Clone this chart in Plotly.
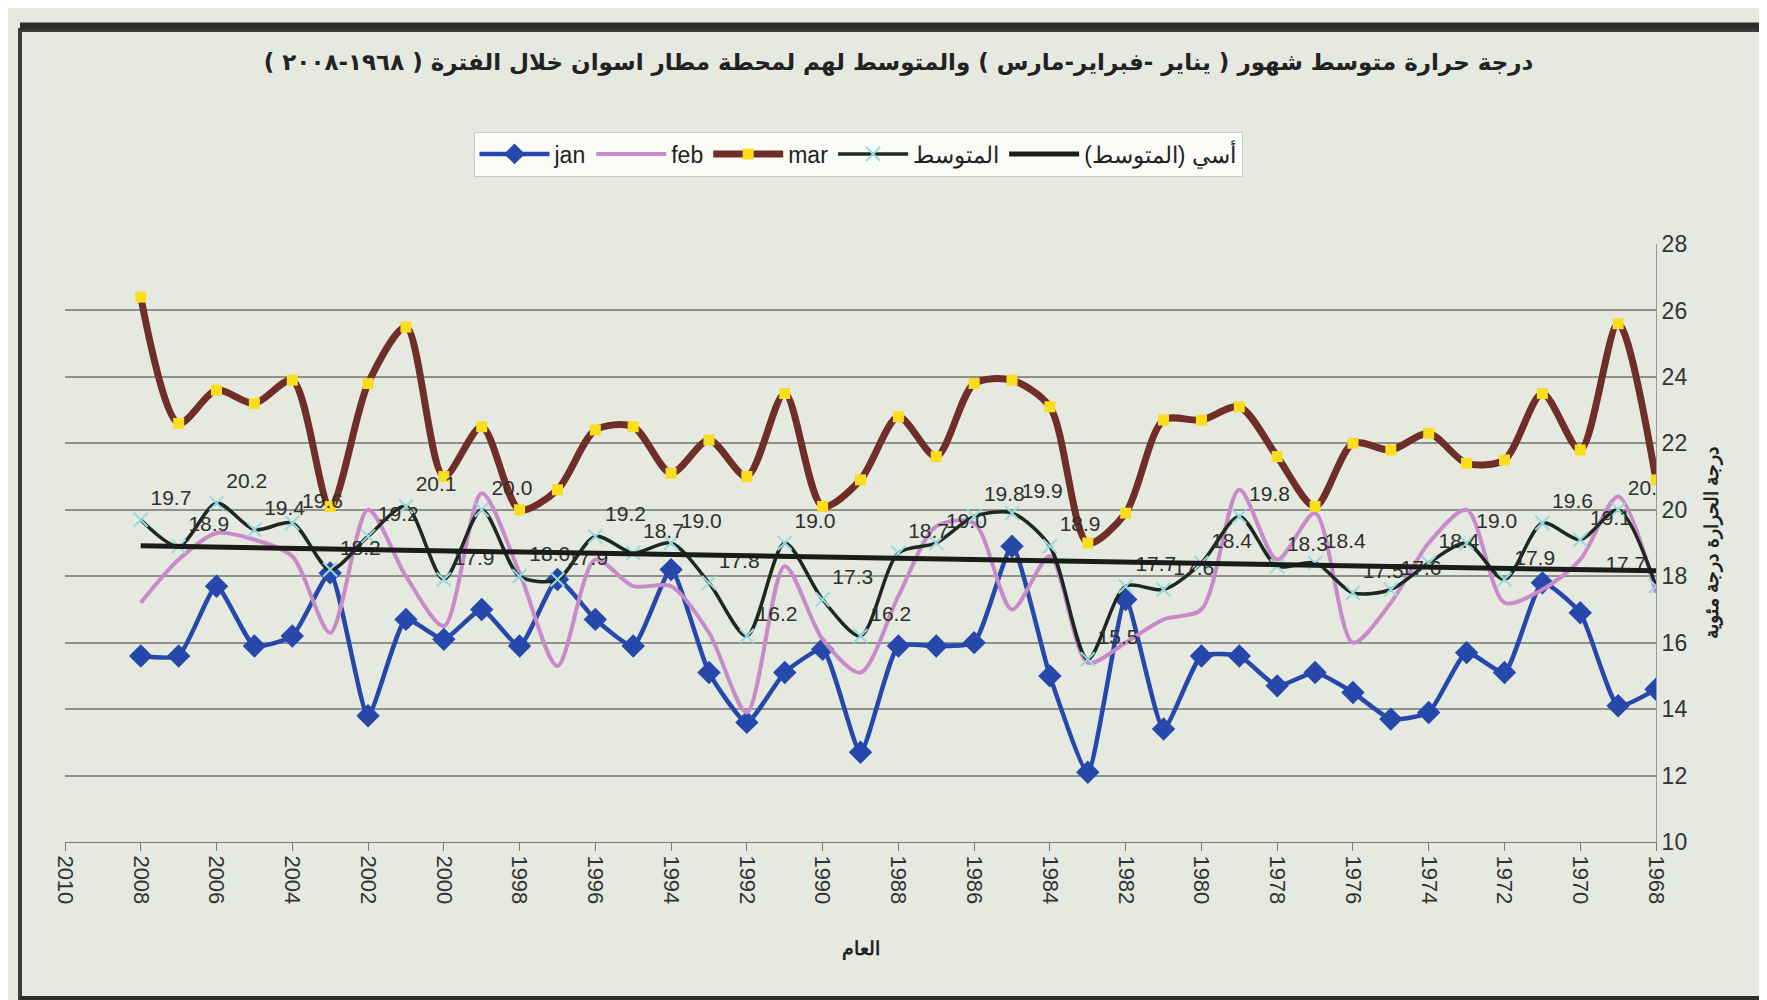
import numpy as np
import plotly.graph_objects as go

years = list(range(2008, 1967, -1))

jan = [15.6, 15.6, 17.7, 15.9, 16.2, 18.1, 13.8, 16.7, 16.1, 17.0,
       15.9, 17.9, 16.7, 15.9, 18.2, 15.1, 13.6, 15.1, 15.8, 12.7,
       15.9, 15.9, 16.0, 18.9, 15.0, 12.1, 17.3, 13.4, 15.6, 15.6,
       14.7, 15.1, 14.5, 13.7, 13.9, 15.7, 15.1, 17.8, 16.9, 14.1,
       14.6]

feb = [17.2, 18.5, 19.3, 19.1, 18.6, 16.3, 20.0, 18.0, 16.5, 20.5,
       18.1, 15.3, 18.5, 17.7, 17.7, 16.3, 13.9, 18.3, 16.1, 15.1,
       17.4, 19.5, 19.6, 17.0, 18.6, 15.4, 16.0, 16.7, 17.0, 20.6,
       18.5, 19.9, 16.0, 17.2, 19.0, 20.0, 17.2, 17.6, 18.5, 20.4,
       17.5]

mar = [26.4, 22.6, 23.6, 23.2, 23.9, 20.1, 23.8, 25.5, 21.0, 22.5,
       20.0, 20.6, 22.4, 22.5, 21.1, 22.1, 21.0, 23.5, 20.1, 20.9,
       22.8, 21.6, 23.8, 23.9, 23.1, 19.0, 19.9, 22.7, 22.7, 23.1,
       21.6, 20.1, 22.0, 21.8, 22.3, 21.4, 21.5, 23.5, 21.8, 25.6,
       20.9]

avg = [round((a + b + c) / 3, 1) for a, b, c in zip(jan, feb, mar)]

# exponential trendline of the average (Excel "أسي")
yr = np.array(years, dtype=float)
b, a = np.polyfit(yr, np.log(avg), 1)
trend = np.exp(a + b * yr)

title = "درجة حرارة متوسط شهور ( يناير -فبراير-مارس ) والمتوسط لهم لمحطة مطار اسوان خلال الفترة ( ١٩٦٨-٢٠٠٨ )"

fig = go.Figure()

fig.add_trace(go.Scatter(
    x=years, y=jan, name="jan", mode="lines+markers",
    line=dict(color="rgb(38,72,170)", width=4.5, shape="spline", smoothing=0.5),
    marker=dict(symbol="diamond", size=18, color="rgb(38,72,170)")))

fig.add_trace(go.Scatter(
    x=years, y=feb, name="feb", mode="lines",
    line=dict(color="rgb(200,138,200)", width=4, shape="spline", smoothing=0.8)))

fig.add_trace(go.Scatter(
    x=years, y=mar, name="mar", mode="lines+markers",
    line=dict(color="rgb(112,46,40)", width=7, shape="spline", smoothing=0.8),
    marker=dict(symbol="square", size=11, color="rgb(250,222,30)")))

label_pos = ["top right"] * (len(avg) - 1) + ["top left"]
fig.add_trace(go.Scatter(
    x=years, y=avg, name="المتوسط", mode="lines+markers+text",
    text=[f"{v:.1f}" for v in avg], textposition=label_pos,
    textfont=dict(size=21, color="#2e302c"),
    line=dict(color="rgb(30,40,34)", width=3.5, shape="spline", smoothing=0.8),
    marker=dict(symbol="x-thin", size=14, color="rgb(150,220,222)",
                line=dict(color="rgb(150,220,222)", width=2))))

fig.add_trace(go.Scatter(
    x=years, y=trend, name="أسي (المتوسط)", mode="lines",
    line=dict(color="rgb(25,28,25)", width=5)))

L, R, T, B = 57, 1648, 236, 834


def px(x):
    return (x - L) / (R - L)


def py(y):
    return (B - y) / (B - T)


shapes = [
    dict(type="rect", xref="paper", yref="paper",
         x0=px(12), x1=px(1757), y0=py(990), y1=py(22),
         line=dict(color="#3b3d39", width=4)),
    dict(type="line", xref="paper", yref="paper",
         x0=px(12), x1=px(1757), y0=py(18), y1=py(18),
         line=dict(color="#2c2e2b", width=7)),
    dict(type="line", xref="paper", yref="paper",
         x0=px(12), x1=px(1757), y0=py(991), y1=py(991),
         line=dict(color="#2c2e2b", width=6)),
]

fig.update_layout(
    width=1767, height=1000,
    margin=dict(l=L, r=1767 - R, t=T, b=1000 - B),
    paper_bgcolor="#e5e9e0", plot_bgcolor="#e5e9e0",
    font=dict(family="Liberation Sans, Arial, sans-serif", color="#333"),
    showlegend=True,
    title=dict(text="<b>" + title + "</b>", x=0.504, y=0.946,
               xanchor="center", yanchor="middle",
               font=dict(size=23, color="#222", family="DejaVu Sans")),
    legend=dict(orientation="h", x=px(850), xanchor="center",
                y=py(146), yanchor="middle",
                bgcolor="#fbfbf8", bordercolor="#c8cac4", borderwidth=1,
                font=dict(size=23, color="#222"), itemwidth=70,
                tracegroupgap=0),
    xaxis=dict(range=[2010, 1968], dtick=2, tick0=2010, tickangle=90,
               showgrid=False, zeroline=False, showline=True,
               linecolor="#777", ticks="outside", ticklen=8, tickcolor="#777",
               tickfont=dict(size=22, color="#333"),
               title=dict(text="<b>العام</b>", font=dict(size=19, color="#222"),
                          standoff=38)),
    yaxis=dict(range=[10, 28], dtick=2, side="right",
               showgrid=True, gridcolor="#8e918b", gridwidth=1.5,
               zeroline=False, showline=True, linecolor="#999",
               tickfont=dict(size=23, color="#333"),
               title=dict(text="<b>درجة الحرارة درجة مئوية</b>",
                          font=dict(size=19, color="#222"), standoff=18)),
    shapes=shapes,
)

fig.write_html("out.html")
